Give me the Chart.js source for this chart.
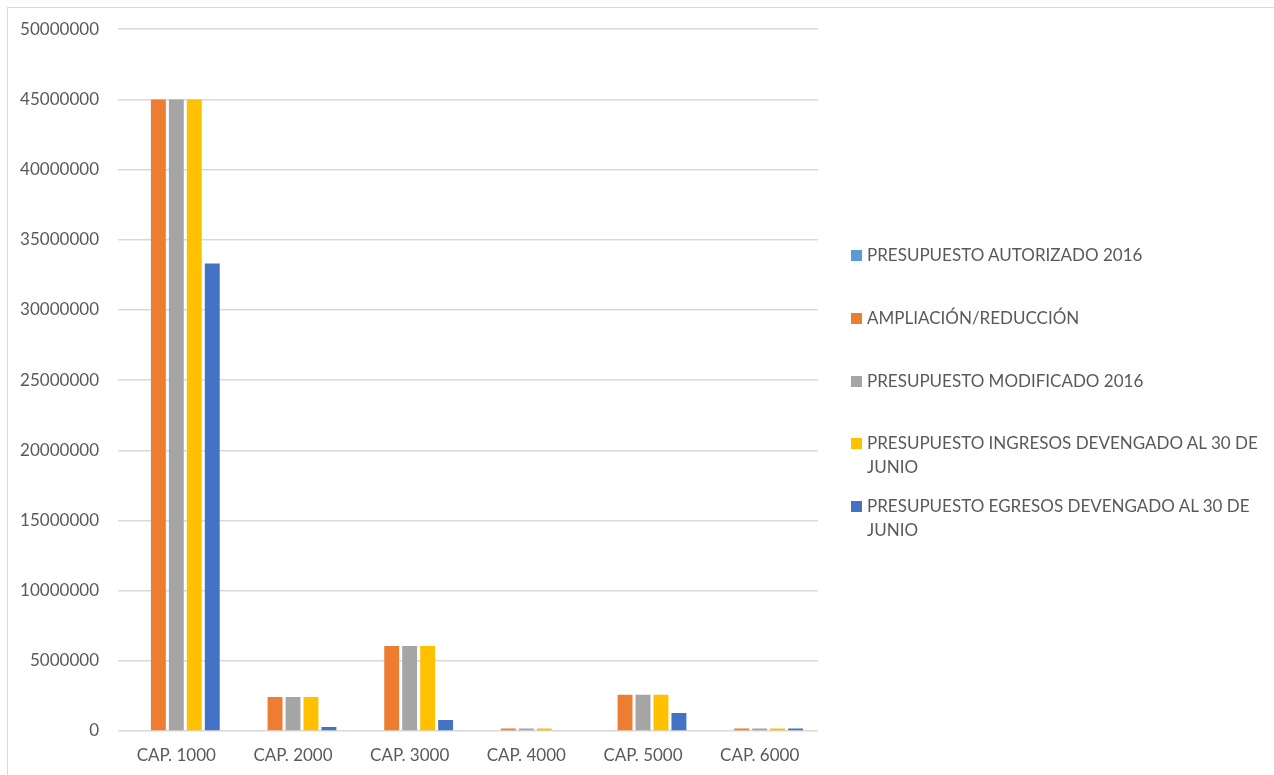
<!DOCTYPE html>
<html>
<head>
<meta charset="utf-8">
<script src="https://cdn.jsdelivr.net/npm/chart.js@4.4.1/dist/chart.umd.min.js"></script>
<style>
  html, body { margin: 0; padding: 0; background: #fff; }
  #wrap { position: relative; width: 1274px; height: 775px; overflow: hidden; }
  #frame { position: absolute; left: 7px; top: 7px; width: 1280px; height: 775px; border: 1px solid #d9d9d9; box-sizing: border-box; }
  #chart { position: absolute; left: 0; top: 0; }
  #legend { position: absolute; left: 851px; top: 0; font-family: Lato, sans-serif; font-size: 17px; color: #595959; }
  .item { position: absolute; left: 0; width: 410px; line-height: 24px; }
  .box { position: absolute; left: 0; top: 7px; width: 11px; height: 11px; }
  .txt { margin-left: 16px; }
</style>
</head>
<body>
<div id="wrap">
  <div id="frame"></div>
  <canvas id="chart" width="1274" height="775"></canvas>
  <div id="legend"></div>
</div>
<script>
// categorías y series
const categorias = ['CAP. 1000', 'CAP. 2000', 'CAP. 3000', 'CAP. 4000', 'CAP. 5000', 'CAP. 6000'];
const autorizado2016 = [0, 0, 0, 0, 0, 0];
const ampliacionReduccion = [45000000, 2420000, 6050000, 170000, 2580000, 170000];
const modificado2016 = [45000000, 2420000, 6050000, 170000, 2580000, 170000];
const ingresosDevengado = [45000000, 2420000, 6050000, 170000, 2580000, 170000];
const egresosDevengado = [33300000, 280000, 780000, 0, 1280000, 170000];

const nombres = [
    'PRESUPUESTO AUTORIZADO 2016',
    'AMPLIACIÓN/REDUCCIÓN',
    'PRESUPUESTO MODIFICADO 2016',
    'PRESUPUESTO INGRESOS DEVENGADO AL 30 DE JUNIO',
    'PRESUPUESTO EGRESOS DEVENGADO AL 30 DE JUNIO'
];
const colores = ['#5B9BD5', '#ED7D31', '#A5A5A5', '#FFC000', '#4472C4'];
const series = [autorizado2016, ampliacionReduccion, modificado2016, ingresosDevengado, egresosDevengado];

const fuente = { family: 'Lato, sans-serif', size: 17 };

const ctx = document.getElementById('chart').getContext('2d');
new Chart(ctx, {
    type: 'bar',
    data: {
        labels: categorias,
        datasets: series.map((d, i) => ({
            label: nombres[i],
            data: d,
            backgroundColor: colores[i],
            categoryPercentage: 0.77,
            barPercentage: 0.83
        }))
    },
    options: {
        responsive: false,
        animation: false,
        layout: { padding: { top: 29, right: 456, bottom: 0, left: 0 } },
        plugins: { legend: { display: false }, tooltip: { enabled: false } },
        scales: {
            x: {
                grid: { display: false, drawTicks: false },
                border: { display: false },
                ticks: { color: '#595959', font: fuente, padding: 14 },
                afterFit: (s) => { s.height = 44; }
            },
            y: {
                min: 0,
                max: 50000000,
                grid: { color: '#d9d9d9', lineWidth: 1.5, drawTicks: false },
                border: { display: false },
                ticks: {
                    stepSize: 5000000,
                    color: '#595959',
                    font: fuente,
                    padding: 19,
                    callback: (v) => String(v)
                },
                afterFit: (s) => { s.width = 118; }
            }
        }
    }
});

// leyenda a la derecha
const leyenda = document.getElementById('legend');
nombres.forEach((n, i) => {
    const it = document.createElement('div');
    it.className = 'item';
    it.style.top = (243 + i * 62.8) + 'px';
    it.innerHTML = '<span class="box" style="background:' + colores[i] + '"></span><div class="txt">' + n + '</div>';
    leyenda.appendChild(it);
});
</script>
</body>
</html>
